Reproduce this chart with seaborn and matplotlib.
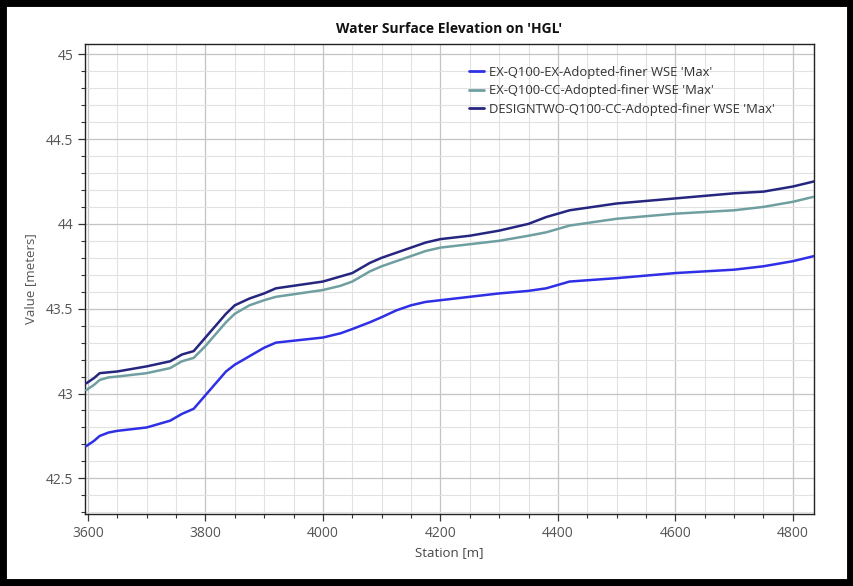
import matplotlib
matplotlib.use("Agg")
import matplotlib.pyplot as plt
import seaborn as sns
import pandas as pd
from matplotlib.ticker import MultipleLocator
from matplotlib.patches import Rectangle

sns.set_style("white")
plt.rcParams['font.family'] = ['Open Sans', 'DejaVu Sans']

station = [3597, 3610, 3620, 3635, 3650, 3700, 3740, 3760, 3780, 3800, 3820, 3835, 3850,
           3875, 3900, 3920, 3960, 4000, 4030, 4050, 4080, 4100, 4125, 4150, 4175, 4200,
           4250, 4300, 4350, 4380, 4400, 4420, 4460, 4500, 4600, 4700, 4750, 4800, 4836]

ex_ex = [42.69, 42.72, 42.75, 42.77, 42.78, 42.80, 42.84, 42.88, 42.91, 42.99, 43.07, 43.13, 43.17,
         43.22, 43.27, 43.30, 43.315, 43.33, 43.355, 43.38, 43.42, 43.45, 43.49, 43.52, 43.54, 43.55,
         43.57, 43.59, 43.605, 43.62, 43.64, 43.66, 43.67, 43.68, 43.71, 43.73, 43.75, 43.78, 43.81]

ex_cc = [43.02, 43.05, 43.08, 43.095, 43.10, 43.12, 43.15, 43.19, 43.21, 43.28, 43.36, 43.42, 43.47,
         43.52, 43.55, 43.57, 43.59, 43.61, 43.635, 43.66, 43.72, 43.75, 43.78, 43.81, 43.84, 43.86,
         43.88, 43.90, 43.93, 43.95, 43.97, 43.99, 44.01, 44.03, 44.06, 44.08, 44.10, 44.13, 44.16]

design = [43.06, 43.09, 43.12, 43.125, 43.13, 43.16, 43.19, 43.23, 43.25, 43.33, 43.41, 43.47, 43.52,
          43.56, 43.59, 43.62, 43.64, 43.66, 43.69, 43.71, 43.77, 43.80, 43.83, 43.86, 43.89, 43.91,
          43.93, 43.96, 44.00, 44.04, 44.06, 44.08, 44.10, 44.12, 44.15, 44.18, 44.19, 44.22, 44.25]

names = ["EX-Q100-EX-Adopted-finer WSE 'Max'",
         "EX-Q100-CC-Adopted-finer WSE 'Max'",
         "DESIGNTWO-Q100-CC-Adopted-finer WSE 'Max'"]
colors = ["#2f2fe6", "#6f9fa0", "#262680"]

frames = []
for n, vals in zip(names, [ex_ex, ex_cc, design]):
    frames.append(pd.DataFrame({"Station": station, "Value": vals, "Series": n}))
df = pd.concat(frames, ignore_index=True)

fig = plt.figure(figsize=(8.54, 5.86), dpi=100)
ax = fig.add_axes([85/854, 1-514/586, (814-85)/854, (514-44)/586])

sns.lineplot(data=df, x="Station", y="Value", hue="Series", palette=dict(zip(names, colors)),
             linewidth=1.8, ax=ax, sort=False, legend=False, zorder=3)

ax.set_xlim(3595, 4836)
ax.set_ylim(42.29, 45.06)

ax.xaxis.set_major_locator(MultipleLocator(200))
ax.xaxis.set_minor_locator(MultipleLocator(50))
ax.yaxis.set_major_locator(MultipleLocator(0.5))
ax.yaxis.set_minor_locator(MultipleLocator(0.1))
ax.set_yticks([42.5, 43, 43.5, 44, 44.5, 45])
ax.set_yticklabels(["42.5", "43", "43.5", "44", "44.5", "45"])

ax.grid(which="major", color="#c4c4c4", linewidth=0.9, zorder=0)
ax.grid(which="minor", color="#e2e2e2", linewidth=0.8, zorder=0)
ax.set_axisbelow(True)

ax.tick_params(which="major", direction="out", length=5, width=0.9, color="#333333",
               labelsize=10, labelcolor="#555555", left=True, bottom=True)
ax.tick_params(which="minor", direction="out", length=3, width=0.8, color="#333333",
               left=True, bottom=True)
for s in ax.spines.values():
    s.set_color("#222222")
    s.set_linewidth(1.0)

ax.set_xlabel("Station [m]", fontsize=9.5, color="#444444", labelpad=4)
ax.set_ylabel("Value [meters]", fontsize=9.5, color="#555555", labelpad=6)
ax.set_title("Water Surface Elevation on 'HGL'", fontsize=10, fontweight="bold",
             color="#111111", pad=8)

handles = [plt.Line2D([], [], color=c, linewidth=2) for c in colors]
leg = ax.legend(handles, names, loc="upper left", bbox_to_anchor=(0.52, 0.965),
                frameon=False, fontsize=9.4, handlelength=1.1, handletextpad=0.4,
                labelspacing=0.42, borderaxespad=0)
for t in leg.get_texts():
    t.set_color("#333333")

fig.patches.append(Rectangle((0, 0), 1, 1, transform=fig.transFigure, fill=False,
                             edgecolor="black", linewidth=10, zorder=10))

fig.savefig("out.png", dpi=100)
